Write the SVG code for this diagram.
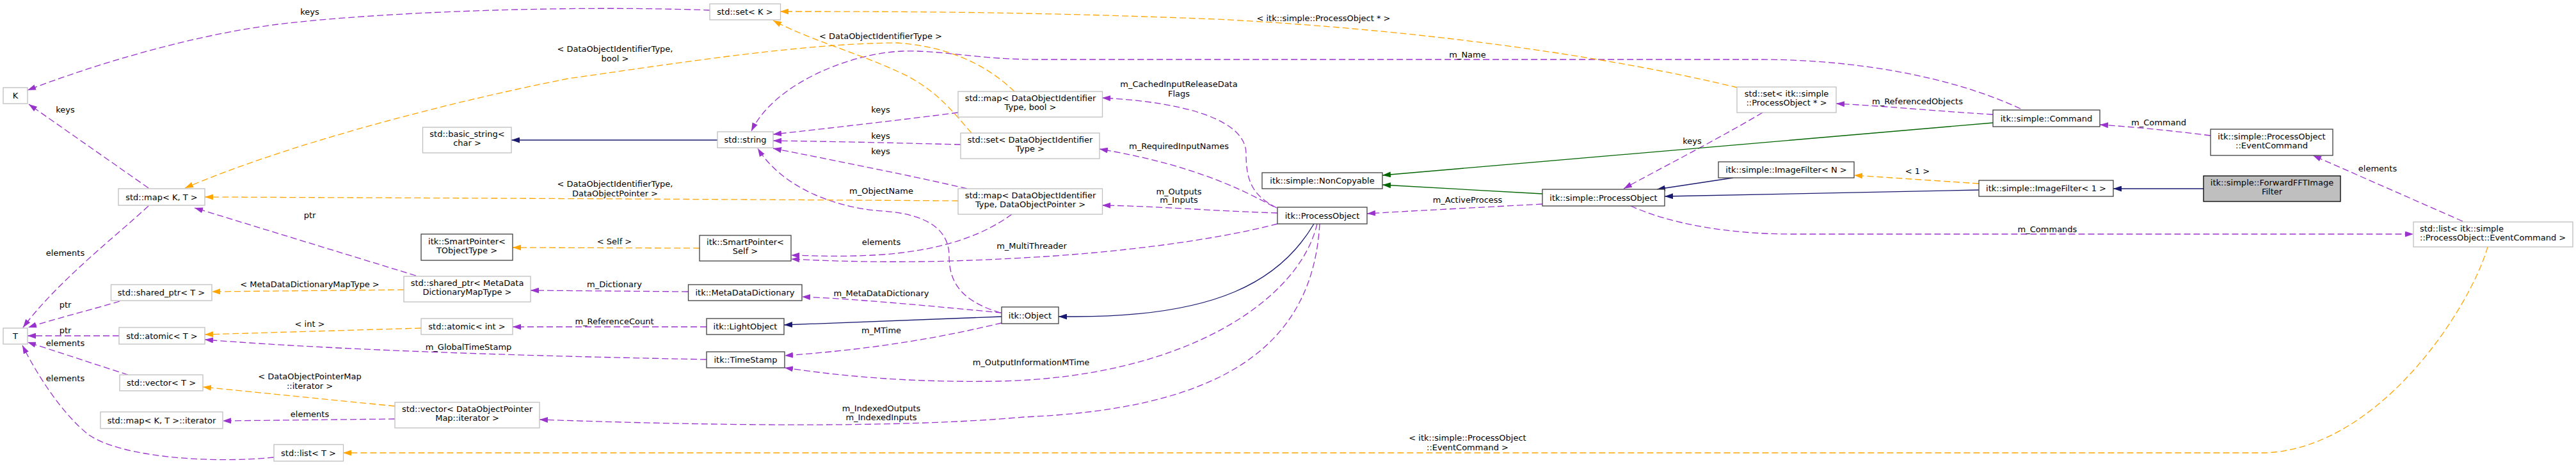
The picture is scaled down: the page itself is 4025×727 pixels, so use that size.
<svg xmlns="http://www.w3.org/2000/svg" width="4025" height="727" viewBox="0 0 4025 727">
<style>
text{font-family:"DejaVu Sans","Liberation Sans",sans-serif;font-size:13px;fill:#000}
.nd rect{fill:#fff;stroke:#404040;stroke-width:1.3}
.ng rect{fill:#fff;stroke:#bfbfbf;stroke-width:1.3}
.nm rect{fill:#bfbfbf;stroke:#000;stroke-width:1.3}
.c{text-anchor:middle}
.e{fill:none;stroke-width:1.3}
.p{stroke:#9a32cd;stroke-dasharray:10,5}
.o{stroke:#ffa500;stroke-dasharray:10,5}
.b{stroke:#191970}
.g{stroke:#006400}
.p{marker-end:url(#mp)}
.o{marker-end:url(#mo)}
.b{marker-end:url(#mb)}
.g{marker-end:url(#mg)}
</style>
<defs>
<marker id="mp" viewBox="0 0 13 9" refX="13" refY="4.5" markerWidth="13" markerHeight="9" markerUnits="userSpaceOnUse" orient="auto"><path d="M0,0L13,4.5L0,9z" fill="#9a32cd"/></marker>
<marker id="mo" viewBox="0 0 13 9" refX="13" refY="4.5" markerWidth="13" markerHeight="9" markerUnits="userSpaceOnUse" orient="auto"><path d="M0,0L13,4.5L0,9z" fill="#ffa500"/></marker>
<marker id="mb" viewBox="0 0 13 9" refX="13" refY="4.5" markerWidth="13" markerHeight="9" markerUnits="userSpaceOnUse" orient="auto"><path d="M0,0L13,4.5L0,9z" fill="#191970"/></marker>
<marker id="mg" viewBox="0 0 13 9" refX="13" refY="4.5" markerWidth="13" markerHeight="9" markerUnits="userSpaceOnUse" orient="auto"><path d="M0,0L13,4.5L0,9z" fill="#006400"/></marker>
</defs>
<rect width="4025" height="727" fill="#fff"/>
<g id="edges">
<!-- purple -->
<path class="e p" d="M1109,16 C900,8 600,18 434,38 C300,55 150,100 43,141"/>
<path class="e p" d="M232,294 L45,163"/>
<path class="e p" d="M232,322 C180,370 90,440 36,512"/>
<path class="e p" d="M187,471 C140,485 80,500 44,512"/>
<path class="e p" d="M186,525 L43,525"/>
<path class="e p" d="M200,586 C150,570 90,550 43,535"/>
<path class="e p" d="M428,715 C330,725 190,715 139,680 C100,650 60,590 35,540"/>
<path class="e p" d="M650,431 L304,325"/>
<path class="e p" d="M1075,456 L829,454"/>
<path class="e p" d="M1104,511 L801,511"/>
<path class="e p" d="M1104,562 C900,558 560,550 320,531"/>
<path class="e p" d="M617,655 L348,658"/>
<path class="e p" d="M1565,489 C1470,480 1350,468 1253,464"/>
<path class="e p" d="M1565,505 C1480,525 1380,545 1226,556"/>
<path class="e p" d="M2058,350 C2030,470 1850,590 1560,596 C1430,598 1330,590 1226,575"/>
<path class="e p" d="M2062,350 C2050,560 1880,640 1600,652 C1400,670 1100,665 843,656"/>
<path class="e p" d="M1563,489 C1500,470 1483,440 1483,400 C1483,360 1450,335 1380,330 C1300,325 1220,290 1184,232"/>
<path class="e p" d="M1497,176 C1420,186 1300,200 1208,210"/>
<path class="e p" d="M1501,226 C1420,224 1300,221 1208,220"/>
<path class="e p" d="M1511,295 C1440,278 1300,250 1208,232"/>
<path class="e p" d="M1581,335 C1540,365 1480,390 1380,398 C1320,402 1280,400 1236,399"/>
<path class="e p" d="M1996,350 C1900,375 1750,395 1600,403 C1450,412 1330,410 1236,405"/>
<path class="e p" d="M1995,325 C1955,305 1947,280 1947,240 C1947,190 1860,160 1722,153"/>
<path class="e p" d="M1990,323 C1930,290 1850,255 1718,233"/>
<path class="e p" d="M1996,333 C1900,330 1800,322 1722,321"/>
<path class="e p" d="M3157,170 C3050,120 2900,93 2750,93 L1620,93 C1530,93 1470,78 1410,80 C1330,83 1210,130 1174,205"/>
<path class="e p" d="M3114,179 C3000,172 2950,166 2869,162"/>
<path class="e p" d="M2754,176 C2680,220 2600,260 2537,295"/>
<path class="e p" d="M2410,319 C2300,325 2200,330 2136,334"/>
<path class="e p" d="M2548,322 C2610,350 2700,366 2800,366 L3771,366"/>
<path class="e p" d="M3454,212 C3400,205 3330,198 3281,195"/>
<path class="e p" d="M3848,346 L3614,243"/>
<!-- orange -->
<path class="e o" d="M1585,143 C1540,100 1480,72 1400,67 C1250,68 1050,100 887,123 C700,160 450,225 289,294"/>
<path class="e o" d="M1497,314 C1200,312 800,310 320,308"/>
<path class="e o" d="M1518,208 C1485,170 1465,145 1420,120 C1350,85 1270,65 1208,32"/>
<path class="e o" d="M2715,137 C2500,85 2200,45 1900,30 C1600,18 1400,18 1219,18"/>
<path class="e o" d="M1093,388 L801,387"/>
<path class="e o" d="M631,453 L331,456"/>
<path class="e o" d="M658,513 L320,523"/>
<path class="e o" d="M617,635 L317,605"/>
<path class="e o" d="M3092,287 L2897,274"/>
<path class="e o" d="M3887,386 C3860,480 3720,700 3540,708 L536,708"/>
<!-- navy -->
<path class="e b" d="M1121,219 L799,219"/>
<path class="e b" d="M1565,495 L1225,508"/>
<path class="e b" d="M2053,350 C2000,440 1900,495 1680,495 L1654,495"/>
<path class="e b" d="M2708,278 L2589,296"/>
<path class="e b" d="M3092,297 L2601,307"/>
<path class="e b" d="M3443,295 L3302,295"/>
<!-- green -->
<path class="e g" d="M3114,192 L2160,274"/>
<path class="e g" d="M2410,303 L2160,289"/>
<!-- labels -->
<g class="c">
<text x="484" y="23">keys</text>
<text x="102" y="176">keys</text>
<text x="102" y="400">elements</text>
<text x="102" y="481">ptr</text>
<text x="102" y="521">ptr</text>
<text x="102" y="541">elements</text>
<text x="102" y="596">elements</text>
<text x="484" y="341">ptr</text>
<text x="484" y="449">&lt; MetaDataDictionaryMapType &gt;</text>
<text x="484" y="511">&lt; int &gt;</text>
<text x="484" y="593">&lt; DataObjectPointerMap</text>
<text x="484" y="608">::iterator &gt;</text>
<text x="484" y="652">elements</text>
<text x="961" y="81">&lt; DataObjectIdentifierType,</text>
<text x="961" y="96">bool &gt;</text>
<text x="961" y="292">&lt; DataObjectIdentifierType,</text>
<text x="961" y="307">DataObjectPointer &gt;</text>
<text x="960" y="382">&lt; Self &gt;</text>
<text x="960" y="449">m_Dictionary</text>
<text x="960" y="507">m_ReferenceCount</text>
<text x="732" y="547">m_GlobalTimeStamp</text>
<text x="1376" y="61">&lt; DataObjectIdentifierType &gt;</text>
<text x="1376" y="176">keys</text>
<text x="1376" y="217">keys</text>
<text x="1376" y="241">keys</text>
<text x="1377" y="303">m_ObjectName</text>
<text x="1377" y="383">elements</text>
<text x="1377" y="463">m_MetaDataDictionary</text>
<text x="1377" y="521">m_MTime</text>
<text x="1377" y="643">m_IndexedOutputs</text>
<text x="1377" y="657">m_IndexedInputs</text>
<text x="1612" y="389">m_MultiThreader</text>
<text x="1611" y="571">m_OutputInformationMTime</text>
<text x="1842" y="136">m_CachedInputReleaseData</text>
<text x="1842" y="151">Flags</text>
<text x="1842" y="233">m_RequiredInputNames</text>
<text x="1842" y="304">m_Outputs</text>
<text x="1842" y="317">m_Inputs</text>
<text x="2068" y="33">&lt; itk::simple::ProcessObject * &gt;</text>
<text x="2293" y="90">m_Name</text>
<text x="2293" y="317">m_ActiveProcess</text>
<text x="2293" y="689">&lt; itk::simple::ProcessObject</text>
<text x="2293" y="704">::EventCommand &gt;</text>
<text x="2644" y="225">keys</text>
<text x="2996" y="163">m_ReferencedObjects</text>
<text x="2996" y="272">&lt; 1 &gt;</text>
<text x="3199" y="363">m_Commands</text>
<text x="3373" y="196">m_Command</text>
<text x="3715" y="268">elements</text>
</g>
</g>
<g id="node-K" class="ng"><rect x="5" y="137" width="38" height="25"/><text class="c" x="24" y="154">K</text></g>
<g id="node-map-KT" class="ng"><rect x="185" y="295" width="135" height="26"/><text class="c" x="252.5" y="312.5">std::map&lt; K, T &gt;</text></g>
<g id="node-T" class="ng"><rect x="5" y="513" width="38" height="25"/><text class="c" x="24" y="530">T</text></g>
<g id="node-shared-ptr-T" class="ng"><rect x="173.5" y="445" width="157.5" height="25"/><text class="c" x="252" y="462">std::shared_ptr&lt; T &gt;</text></g>
<g id="node-atomic-T" class="ng"><rect x="186" y="512" width="134" height="26"/><text class="c" x="253" y="529.5">std::atomic&lt; T &gt;</text></g>
<g id="node-vector-T" class="ng"><rect x="187" y="586" width="130" height="25"/><text class="c" x="252" y="603">std::vector&lt; T &gt;</text></g>
<g id="node-map-iterator" class="ng"><rect x="157" y="644" width="191" height="26"/><text class="c" x="252.5" y="661.5">std::map&lt; K, T &gt;::iterator</text></g>
<g id="node-list-T" class="ng"><rect x="428" y="695" width="108.5" height="26"/><text class="c" x="482" y="712.5">std::list&lt; T &gt;</text></g>
<g id="node-basic-string" class="ng"><rect x="660.5" y="199" width="138.5" height="40"/><text class="c" x="730" y="214">std::basic_string&lt;</text><text class="c" x="730" y="228">char &gt;</text></g>
<g id="node-smartpointer-tobj" class="nd"><rect x="658" y="366" width="143" height="41"/><text class="c" x="729.5" y="382">itk::SmartPointer&lt;</text><text class="c" x="729.5" y="396">TObjectType &gt;</text></g>
<g id="node-shared-ptr-mdd" class="ng"><rect x="631" y="432" width="198" height="40"/><text class="c" x="730" y="447">std::shared_ptr&lt; MetaData</text><text class="c" x="730" y="461">DictionaryMapType &gt;</text></g>
<g id="node-atomic-int" class="ng"><rect x="658" y="498" width="143" height="25"/><text class="c" x="729.5" y="515">std::atomic&lt; int &gt;</text></g>
<g id="node-vector-dopm" class="ng"><rect x="617" y="629" width="226" height="40"/><text class="c" x="730" y="644">std::vector&lt; DataObjectPointer</text><text class="c" x="730" y="658">Map::iterator &gt;</text></g>
<g id="node-set-K" class="ng"><rect x="1109" y="6" width="110.5" height="25"/><text class="c" x="1164" y="23">std::set&lt; K &gt;</text></g>
<g id="node-string" class="ng"><rect x="1121" y="206" width="87" height="25"/><text class="c" x="1164.5" y="223">std::string</text></g>
<g id="node-smartpointer-self" class="nd"><rect x="1093" y="368" width="143" height="40"/><text class="c" x="1164.5" y="383">itk::SmartPointer&lt;</text><text class="c" x="1164.5" y="397">Self &gt;</text></g>
<g id="node-metadatadictionary" class="nd"><rect x="1075.5" y="445" width="177.5" height="25"/><text class="c" x="1164" y="462">itk::MetaDataDictionary</text></g>
<g id="node-lightobject" class="nd"><rect x="1104" y="498" width="121" height="25"/><text class="c" x="1164.5" y="515">itk::LightObject</text></g>
<g id="node-timestamp" class="nd"><rect x="1104" y="550" width="122" height="25"/><text class="c" x="1165" y="567">itk::TimeStamp</text></g>
<g id="node-map-doit-bool" class="ng"><rect x="1497" y="143" width="225.5" height="40"/><text class="c" x="1610" y="158">std::map&lt; DataObjectIdentifier</text><text class="c" x="1610" y="172">Type, bool &gt;</text></g>
<g id="node-set-doit" class="ng"><rect x="1501" y="208" width="217" height="40"/><text class="c" x="1609.5" y="223">std::set&lt; DataObjectIdentifier</text><text class="c" x="1609.5" y="237">Type &gt;</text></g>
<g id="node-map-doit-dop" class="ng"><rect x="1497" y="295" width="225.5" height="40"/><text class="c" x="1610" y="310">std::map&lt; DataObjectIdentifier</text><text class="c" x="1610" y="324">Type, DataObjectPointer &gt;</text></g>
<g id="node-object" class="nd"><rect x="1565" y="480" width="89" height="26"/><text class="c" x="1609.5" y="497.5">itk::Object</text></g>
<g id="node-noncopyable" class="nd"><rect x="1972" y="270" width="188" height="25"/><text class="c" x="2066" y="287">itk::simple::NonCopyable</text></g>
<g id="node-itk-processobject" class="nd"><rect x="1996" y="324" width="140" height="26"/><text class="c" x="2066" y="341.5">itk::ProcessObject</text></g>
<g id="node-simple-processobject" class="nd"><rect x="2410" y="296" width="191" height="26"/><text class="c" x="2505.5" y="313.5">itk::simple::ProcessObject</text></g>
<g id="node-set-po" class="ng"><rect x="2714" y="136" width="155" height="40"/><text class="c" x="2791.5" y="151">std::set&lt; itk::simple</text><text class="c" x="2791.5" y="165">::ProcessObject * &gt;</text></g>
<g id="node-imagefilter-n" class="nd"><rect x="2685" y="253" width="212" height="25"/><text class="c" x="2791" y="270">itk::simple::ImageFilter&lt; N &gt;</text></g>
<g id="node-command" class="nd"><rect x="3114" y="172" width="167" height="26"/><text class="c" x="3197.5" y="189.5">itk::simple::Command</text></g>
<g id="node-imagefilter-1" class="nd"><rect x="3092" y="282" width="210" height="25"/><text class="c" x="3197" y="299">itk::simple::ImageFilter&lt; 1 &gt;</text></g>
<g id="node-eventcommand" class="nd"><rect x="3454" y="202" width="191" height="41"/><text class="c" x="3549.5" y="218">itk::simple::ProcessObject</text><text class="c" x="3549.5" y="232">::EventCommand</text></g>
<g id="node-forwardfft" class="nm"><rect x="3443" y="275" width="214" height="40"/><text class="c" x="3550" y="290">itk::simple::ForwardFFTImage</text><text class="c" x="3550" y="304">Filter</text></g>
<g id="node-list-eventcommand" class="ng"><rect x="3771" y="347" width="249" height="39"/><text x="3781" y="362">std::list&lt; itk::simple</text><text x="3781" y="376">::ProcessObject::EventCommand &gt;</text></g>
</svg>
